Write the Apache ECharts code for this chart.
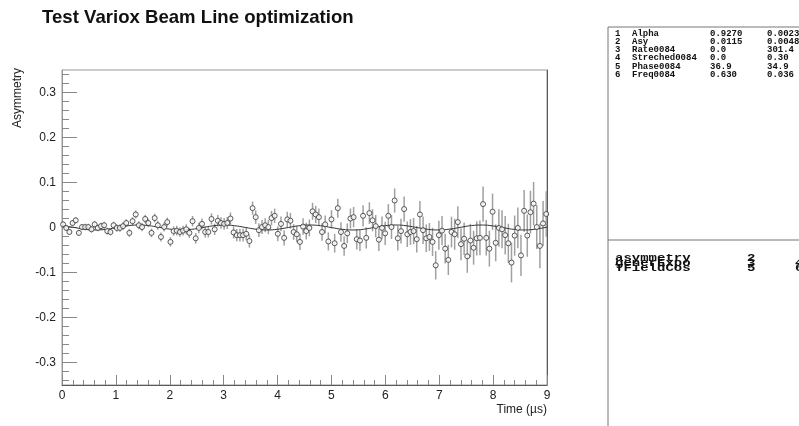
<!DOCTYPE html>
<html lang="en">
<head>
    <meta charset="UTF-8">
    <title>asymmetry</title>
    <script src="https://cdn.jsdelivr.net/npm/echarts@6/dist/echarts.min.js"></script>
    <style>
        html, body { margin: 0; padding: 0; background: #fff; }
        #main { width: 799px; height: 426px; }
    </style>
</head>
<body>
<div id="main"></div>
<script>
    // bin centres: first bin and width (us)
    var firstTime = 0.02;
    var binWidth = 0.0586;

    // asymmetry per bin
    var asymValues = [
        0.007, -0.001, -0.010, 0.010, 0.016, -0.012, 0.001, 0.001, 0.001, -0.004,
        0.007, -0.001, 0.003, 0.005, -0.008, -0.010, 0.005, -0.001, -0.001, 0.003,
        0.010, -0.012, 0.014, 0.029, 0.005, 0.001, 0.019, 0.010, -0.012, 0.021,
        0.005, -0.021, 0.001, 0.012, -0.032, -0.008, -0.007, -0.010, -0.007, -0.004,
        -0.012, 0.014, -0.024, -0.001, 0.008, -0.010, -0.010, 0.019, -0.004, 0.015,
        0.010, 0.008, 0.010, 0.020, -0.011, -0.017, -0.017, -0.017, -0.014, -0.030,
        0.043, 0.023, -0.006, 0.001, 0.005, 0.001, 0.021, 0.026, -0.014, 0.008,
        -0.023, 0.018, 0.015, -0.010, -0.015, -0.032, 0.002, -0.008, -0.001, 0.036,
        0.029, 0.023, -0.010, 0.007, -0.031, 0.018, -0.035, 0.043, -0.010, -0.041,
        -0.013, 0.020, 0.023, -0.026, -0.029, 0.026, -0.023, 0.032, 0.016, 0.003,
        -0.027, -0.001, -0.013, 0.026, 0.001, 0.060, -0.024, -0.008, 0.041, -0.015,
        -0.010, -0.008, -0.026, 0.029, -0.006, -0.024, -0.021, -0.032, -0.084, -0.017,
        -0.007, -0.047, -0.072, -0.010, -0.015, 0.012, -0.037, -0.025, -0.064, -0.029,
        -0.045, -0.024, -0.023, 0.052, -0.023, -0.047, 0.035, -0.034, -0.001, -0.004,
        -0.017, -0.035, -0.078, -0.018, -0.001, -0.062, 0.037, -0.018, 0.034, 0.053,
        0.001, -0.041, 0.009, 0.030
    ];

    // error bar half-lengths per bin
    var asymErrors = [
        0.0065, 0.0066, 0.0067, 0.0068, 0.0069, 0.0070, 0.0070, 0.0071, 0.0072, 0.0073, 0.0074, 0.0075, 0.0076, 0.0077, 0.0078, 0.0079, 0.0080,
        0.0082, 0.0083, 0.0084, 0.0085, 0.0087, 0.0088, 0.0089, 0.0091, 0.0092, 0.0093, 0.0095, 0.0096, 0.0097, 0.0099, 0.0100, 0.0101, 0.0102,
        0.0104, 0.0105, 0.0107, 0.0108, 0.0110, 0.0112, 0.0113, 0.0115, 0.0117, 0.0118, 0.0120, 0.0121, 0.0123, 0.0124, 0.0126, 0.0127, 0.0128,
        0.0130, 0.0132, 0.0134, 0.0136, 0.0138, 0.0140, 0.0142, 0.0144, 0.0146, 0.0148, 0.0150, 0.0152, 0.0154, 0.0156, 0.0158, 0.0159, 0.0160,
        0.0163, 0.0165, 0.0168, 0.0170, 0.0173, 0.0175, 0.0178, 0.0180, 0.0183, 0.0185, 0.0188, 0.0190, 0.0192, 0.0195, 0.0197, 0.0199, 0.0201,
        0.0205, 0.0208, 0.0211, 0.0214, 0.0217, 0.0220, 0.0223, 0.0226, 0.0229, 0.0232, 0.0235, 0.0238, 0.0241, 0.0244, 0.0247, 0.0250, 0.0252,
        0.0257, 0.0261, 0.0265, 0.0268, 0.0272, 0.0276, 0.0280, 0.0284, 0.0288, 0.0292, 0.0296, 0.0300, 0.0304, 0.0307, 0.0310, 0.0313, 0.0316,
        0.0322, 0.0327, 0.0332, 0.0336, 0.0341, 0.0346, 0.0351, 0.0356, 0.0361, 0.0366, 0.0371, 0.0376, 0.0381, 0.0386, 0.0390, 0.0394, 0.0398,
        0.0404, 0.0410, 0.0416, 0.0422, 0.0428, 0.0434, 0.0440, 0.0446, 0.0452, 0.0458, 0.0464, 0.0470, 0.0476, 0.0482, 0.0488, 0.0494, 0.0500, 0.0505
    ];

    // fit curve, sampled every 0.2 us from the plot
    var fitTimes = [
        0, 0.2, 0.4, 0.6, 0.8, 1.0, 1.2, 1.4, 1.6, 1.8, 2.0, 2.2, 2.4, 2.6, 2.8, 3.0,
        3.2, 3.4, 3.6, 3.8, 4.0, 4.2, 4.4, 4.6, 4.8, 5.0, 5.2, 5.4, 5.6, 5.8, 6.0,
        6.2, 6.4, 6.6, 6.8, 7.0, 7.2, 7.4, 7.6, 7.8, 8.0, 8.2, 8.4, 8.6, 8.8, 9.0
    ];
    var fitValues = [
        0.0044, 0.0007, -0.0034, -0.0055, -0.0043, -0.0006, 0.0035, 0.0055, 0.0042, 0.0005,
        -0.0036, -0.0055, -0.0041, -0.0003, 0.0037, 0.0055, 0.0040, 0.0002, -0.0038, -0.0055,
        -0.0039, 0.0000, 0.0039, 0.0055, 0.0039, -0.0001, -0.0040, -0.0055, -0.0038, 0.0002,
        0.0041, 0.0055, 0.0037, -0.0004, -0.0042, -0.0055, -0.0035, 0.0005, 0.0043, 0.0055,
        0.0034, -0.0006, -0.0043, -0.0055, -0.0033, 0.0008
    ];

    // axis ticks
    var yMajorTicks = [-0.3, -0.2, -0.1, 0, 0.1, 0.2, 0.3];
    var yMinorTicks = [-0.34, -0.32, -0.28, -0.26, -0.24, -0.22, -0.18, -0.16, -0.14, -0.12,
        -0.08, -0.06, -0.04, -0.02, 0.02, 0.04, 0.06, 0.08, 0.12, 0.14, 0.16, 0.18,
        0.22, 0.24, 0.26, 0.28, 0.32, 0.34];

    // parameter box
    var parNames = ['Alpha', 'Asy', 'Rate0084', 'Streched0084', 'Phase0084', 'Freq0084'];
    var parValues = ['0.9270', '0.0115', '0.0', '0.0', '36.9', '0.630'];
    var parErrors = ['0.0023', '0.0048', '301.4', '0.30', '34.9', '0.036'];
    var funcNames = ['asymmetry', 'generExpo', 'TFieldCos'];
    var funcIds = ['2', '3', '5'];
    var funcCut = ['', '4', '6'];

    var sans = 'Liberation Sans, Arial, sans-serif';
    var mono = 'Liberation Mono, Courier New, monospace';

    var points = [];
    for (var i = 0; i < asymValues.length; i++) {
        points.push([firstTime + i * binWidth, asymValues[i], asymErrors[i]]);
    }
    var fitData = fitTimes.map(function (t, k) { return [t, fitValues[k]]; });

    var graphics = [
        {type: 'text', x: 18, y: 68, rotation: Math.PI / 2,
            style: {text: 'Asymmetry', font: '12px ' + sans, fill: '#222', align: 'right', verticalAlign: 'middle'}},
        {type: 'text', x: 547, y: 410,
            style: {text: 'Time (\u00b5s)', font: '12px ' + sans, fill: '#222', align: 'right', verticalAlign: 'middle'}},
        {type: 'line', shape: {x1: 608, y1: 27, x2: 608, y2: 426}, style: {stroke: '#777', lineWidth: 1}},
        {type: 'line', shape: {x1: 608, y1: 27, x2: 799, y2: 27}, style: {stroke: '#777', lineWidth: 1}},
        {type: 'line', shape: {x1: 608, y1: 240, x2: 799, y2: 240}, style: {stroke: '#777', lineWidth: 1}}
    ];
    parNames.forEach(function (n, k) {
        var y = 33.5 + k * 8.2;
        var st = {font: 'bold 9px ' + mono, fill: '#111', verticalAlign: 'middle'};
        graphics.push({type: 'text', x: 615, y: y, style: Object.assign({text: String(k + 1)}, st)});
        graphics.push({type: 'text', x: 632, y: y, style: Object.assign({text: n}, st)});
        graphics.push({type: 'text', x: 710, y: y, style: Object.assign({text: parValues[k]}, st)});
        graphics.push({type: 'text', x: 767, y: y, style: Object.assign({text: parErrors[k]}, st)});
    });
    funcNames.forEach(function (n, k) {
        var y = 258 + k * 5.4;
        var st = {font: 'bold 14px ' + mono, fill: '#111', verticalAlign: 'middle'};
        graphics.push({type: 'text', x: 615, y: y, scaleY: 0.72, style: Object.assign({text: n}, st)});
        graphics.push({type: 'text', x: 747, y: y, scaleY: 0.72, style: Object.assign({text: funcIds[k]}, st)});
        if (funcCut[k]) graphics.push({type: 'text', x: 795, y: y, scaleY: 0.72, style: Object.assign({text: funcCut[k]}, st)});
    });

    var chart = echarts.init(document.getElementById('main'));
    var option = {
        animation: false,
        backgroundColor: '#fff',
        title: {
            text: 'Test Variox Beam Line optimization',
            left: 37, top: 3,
            textStyle: {fontFamily: sans, fontSize: 18.6, fontWeight: 'bold', color: '#111'}
        },
        grid: {left: 62, right: 252, top: 70, bottom: 41, show: true, borderColor: '#999', borderWidth: 1},
        xAxis: {
            type: 'value', min: 0, max: 9, interval: 1,
            axisLine: {onZero: false, lineStyle: {color: '#c0302a', width: 1}},
            axisTick: {inside: true, length: 10, lineStyle: {color: '#888'}},
            minorTick: {show: true, splitNumber: 5, length: 5, lineStyle: {color: '#888'}},
            axisLabel: {color: '#222', fontFamily: sans, fontSize: 12, margin: 5},
            splitLine: {show: false}
        },
        yAxis: [
            {
                type: 'value', min: -0.35, max: 0.35, position: 'left',
                axisLine: {show: true, lineStyle: {color: '#999'}},
                axisTick: {inside: true, length: 15, customValues: yMajorTicks, lineStyle: {color: '#888'}},
                axisLabel: {customValues: yMajorTicks, color: '#222', fontFamily: sans, fontSize: 12, margin: 6},
                splitLine: {show: false}
            },
            {
                type: 'value', min: -0.35, max: 0.35, position: 'left',
                axisLine: {show: false},
                axisTick: {show: true, inside: true, length: 7, customValues: yMinorTicks, lineStyle: {color: '#888'}},
                axisLabel: {show: false},
                splitLine: {show: false}
            },
            {
                type: 'value', min: -0.35, max: 0.35, position: 'right',
                axisLine: {show: true, lineStyle: {color: '#c0302a'}},
                axisTick: {show: false}, axisLabel: {show: false}, splitLine: {show: false}
            }
        ],
        series: [
            {
                type: 'custom',
                data: points,
                renderItem: function (params, api) {
                    var t = api.value(0), v = api.value(1), e = api.value(2);
                    var hi = api.coord([t, v + e]);
                    var lo = api.coord([t, v - e]);
                    return {
                        type: 'line',
                        shape: {x1: hi[0], y1: hi[1], x2: lo[0], y2: lo[1]},
                        style: {stroke: '#a0a0a0', lineWidth: 1.5}
                    };
                },
                z: 2
            },
            {
                type: 'line',
                data: fitData,
                smooth: true,
                showSymbol: false,
                lineStyle: {color: '#333', width: 1},
                z: 3
            },
            {
                type: 'scatter',
                data: points,
                symbol: 'circle',
                symbolSize: 5,
                itemStyle: {color: '#fff', borderColor: '#333', borderWidth: 1},
                z: 4
            }
        ],
        graphic: graphics
    };
    chart.setOption(option);
</script>
</body>
</html>
